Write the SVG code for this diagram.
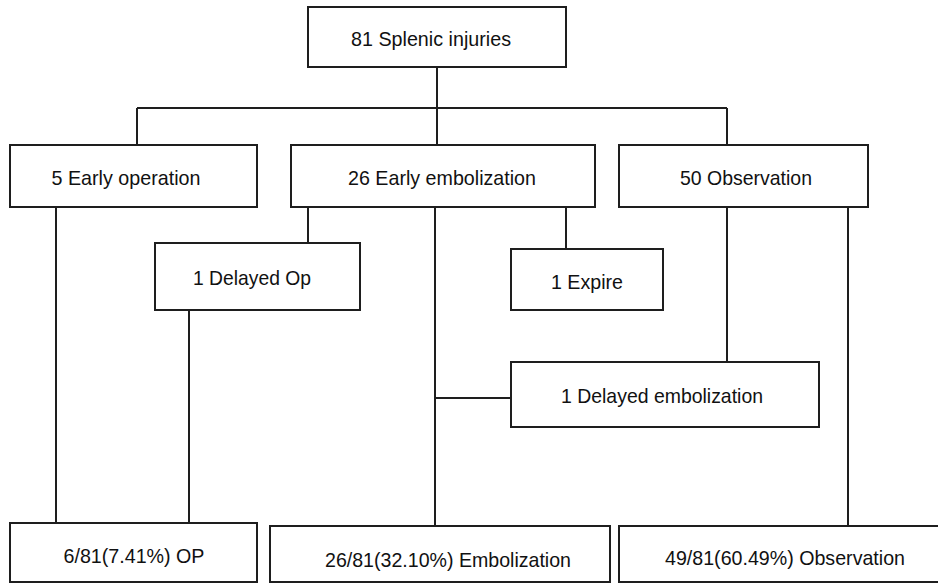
<svg xmlns="http://www.w3.org/2000/svg" width="938" height="583" viewBox="0 0 938 583">
<style>
.box{fill:#fff;stroke:#1e1e1e;stroke-width:2}
.ln{fill:none;stroke:#1e1e1e;stroke-width:2}
text{font-family:"Liberation Sans",Arial,Helvetica,sans-serif;font-size:21px;fill:#111;text-anchor:middle}
</style>
<rect width="938" height="583" fill="#fff"/>
<g id="connectors" class="ln">
<path d="M437 67V145"/>
<path d="M137 108H727"/>
<path d="M137 108V145"/>
<path d="M727 108V145"/>
<path d="M56 207V523"/>
<path d="M308 207V243"/>
<path d="M189 310V523"/>
<path d="M435 207V526"/>
<path d="M435 398H511"/>
<path d="M566 207V249"/>
<path d="M727 207V362"/>
<path d="M848 207V526"/>
</g>
<g id="n-splenic"><rect class="box" x="308" y="7" width="258" height="60"/><text x="431" y="46" textLength="160" lengthAdjust="spacingAndGlyphs">81 Splenic injuries</text></g>
<g id="n-early-op"><rect class="box" x="10" y="145" width="247" height="62"/><text x="126" y="185" textLength="149" lengthAdjust="spacingAndGlyphs">5 Early operation</text></g>
<g id="n-early-emb"><rect class="box" x="291" y="145" width="304" height="62"/><text x="442" y="185" textLength="188" lengthAdjust="spacingAndGlyphs">26 Early embolization</text></g>
<g id="n-observation"><rect class="box" x="619" y="145" width="249" height="62"/><text x="746" y="185" textLength="132" lengthAdjust="spacingAndGlyphs">50 Observation</text></g>
<g id="n-delayed-op"><rect class="box" x="155" y="243" width="205" height="67"/><text x="252" y="285" textLength="118" lengthAdjust="spacingAndGlyphs">1 Delayed Op</text></g>
<g id="n-expire"><rect class="box" x="511" y="249" width="152" height="61"/><text x="587" y="289" textLength="72" lengthAdjust="spacingAndGlyphs">1 Expire</text></g>
<g id="n-delayed-emb"><rect class="box" x="511" y="362" width="308" height="65"/><text x="662" y="403" textLength="202" lengthAdjust="spacingAndGlyphs">1 Delayed embolization</text></g>
<g id="n-op"><rect class="box" x="10" y="523" width="247" height="59"/><text x="134" y="563" textLength="141" lengthAdjust="spacingAndGlyphs">6/81(7.41%) OP</text></g>
<g id="n-emb"><rect class="box" x="270" y="526" width="340" height="56"/><text x="448" y="567" textLength="246" lengthAdjust="spacingAndGlyphs">26/81(32.10%) Embolization</text></g>
<g id="n-obs"><rect class="box" x="619" y="526" width="340" height="56"/><text x="785" y="565" textLength="240" lengthAdjust="spacingAndGlyphs">49/81(60.49%) Observation</text></g>
</svg>
